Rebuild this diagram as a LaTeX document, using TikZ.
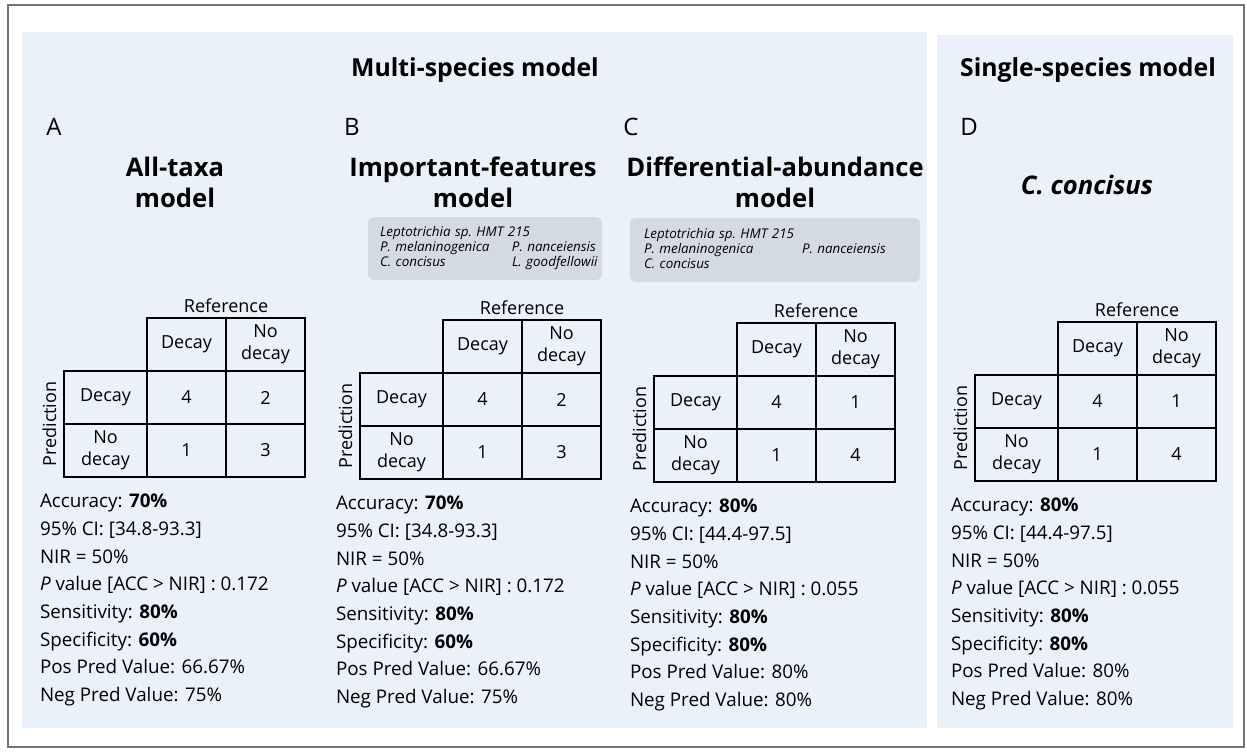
\documentclass[tikz,border=0pt]{standalone}
\usepackage{fontspec}
\setmainfont{Open Sans}
\usepackage{xcolor}
\usetikzlibrary{positioning}

\definecolor{panelbg}{RGB}{234,241,249}
\definecolor{speciesbg}{RGB}{212,218,228}
\definecolor{framegray}{RGB}{115,115,115}

\begin{document}
\begin{tikzpicture}[x=0.5pt, y=-0.5pt,
    every node/.style={font=\fontsize{9}{11}\selectfont, inner sep=0pt, outer sep=0pt},
    heading/.style={font=\fontsize{12.4}{14}\selectfont\bfseries},
    letter/.style={font=\fontsize{12}{14}\selectfont},
    modelname/.style={font=\fontsize{12.8}{15.5}\selectfont\bfseries, align=center},
    species/.style={fill=speciesbg, rounded corners=3pt, anchor=west, inner xsep=6pt,
        font=\fontsize{6.7}{7.5}\selectfont\itshape},
    cell/.style={draw, line width=0.8pt, minimum width=39.5pt, minimum height=26.5pt, align=center},
    rowlab/.style={cell, minimum width=41.5pt},
    stats/.style={align=left, font=\fontsize{9.4}{13.85}\selectfont}]
  \useasboundingbox (0,0) rectangle (1247,751);

  % frame and tinted panels
  \draw[framegray, line width=0.6pt] (8,5) rectangle (1244,747);
  \fill[panelbg] (22,32) rectangle (927,728);
  \fill[panelbg] (937,35) rectangle (1233,728);

  % headings
  \node[heading] (multi) at (475,70) {Multi-species model};
  \node[heading] (single) at (1088,70) {Single-species model};

  \node[letter] (la) at (54,127) {A};
  \node[letter] (lb) at (352,127) {B};
  \node[letter] (lc) at (631,127) {C};
  \node[letter] (ld) at (969,127) {D};

  \node[modelname] (ta) at (175,182) {All-taxa\\model};
  \node[modelname] (tb) at (473,182) {Important-features\\model};
  \node[modelname] (tc) at (775,182) {Differential-abundance\\model};
  \node[modelname, font=\fontsize{12.8}{15.5}\selectfont\bfseries\itshape] (td) at (1087,185) {C. concisus};

  % species lists
  \node[species, minimum width=117pt, minimum height=31.5pt, text width=105pt] (spb) at (368,248.5)
    {\begin{tabular}{@{}p{66pt}@{}l@{}}
       \multicolumn{2}{@{}l@{}}{Leptotrichia sp.\ HMT 215}\\
       P. melaninogenica & P. nanceiensis\\
       C. concisus & L. goodfellowii
     \end{tabular}};
  \node[species, minimum width=145pt, minimum height=32pt, text width=131pt, inner xsep=7pt] (spc) at (630,250)
    {\begin{tabular}{@{}p{79pt}@{}l@{}}
       \multicolumn{2}{@{}l@{}}{Leptotrichia sp.\ HMT 215}\\
       P. melaninogenica & P. nanceiensis\\
       C. concisus &
     \end{tabular}};

  % confusion matrices and statistics
  \foreach \id/\cx/\cy/\tp/\fp/\fn/\tn/\acc/\ci/\pv/\spec/\ppv/\npv in {
      a/147/318/4/2/1/3/70/34.8-93.3/0.172/60/66.67/75,
      b/443/320/4/2/1/3/70/34.8-93.3/0.172/60/66.67/75,
      c/737/323/4/1/1/4/80/44.4-97.5/0.055/80/80/80,
      d/1058/322/4/1/1/4/80/44.4-97.5/0.055/80/80/80}{
    \node[cell, anchor=north west] (hdec-\id) at (\cx,\cy) {Decay};
    \node[cell, right=0pt of hdec-\id] (hno-\id) {No\\decay};
    \node[cell, below=0pt of hdec-\id] (tp-\id) {\tp};
    \node[cell, right=0pt of tp-\id] (fp-\id) {\fp};
    \node[cell, below=0pt of tp-\id] (fn-\id) {\fn};
    \node[cell, right=0pt of fn-\id] (tn-\id) {\tn};
    \node[rowlab, left=0pt of tp-\id] (rdec-\id) {Decay};
    \node[rowlab, left=0pt of fn-\id] (rno-\id) {No\\decay};
    \node[anchor=base] (ref-\id) at ([yshift=3pt]hdec-\id.north east) {Reference};
    \node[rotate=90, anchor=base] (pred-\id) at ([xshift=-4pt]rdec-\id.south west) {Prediction};
    \node[stats, below right=8.5pt and -12pt of rno-\id.south west] (stats-\id)
      {Accuracy: \textbf{\acc\%}\\
       95\% CI: [\ci]\\
       NIR = 50\%\\
       \textit{P} value [ACC > NIR] : \pv\\
       Sensitivity: \textbf{80\%}\\
       Specificity: \textbf{\spec\%}\\
       Pos Pred Value: \ppv\%\\
       Neg Pred Value: \npv\%};
  }
\end{tikzpicture}
\end{document}
